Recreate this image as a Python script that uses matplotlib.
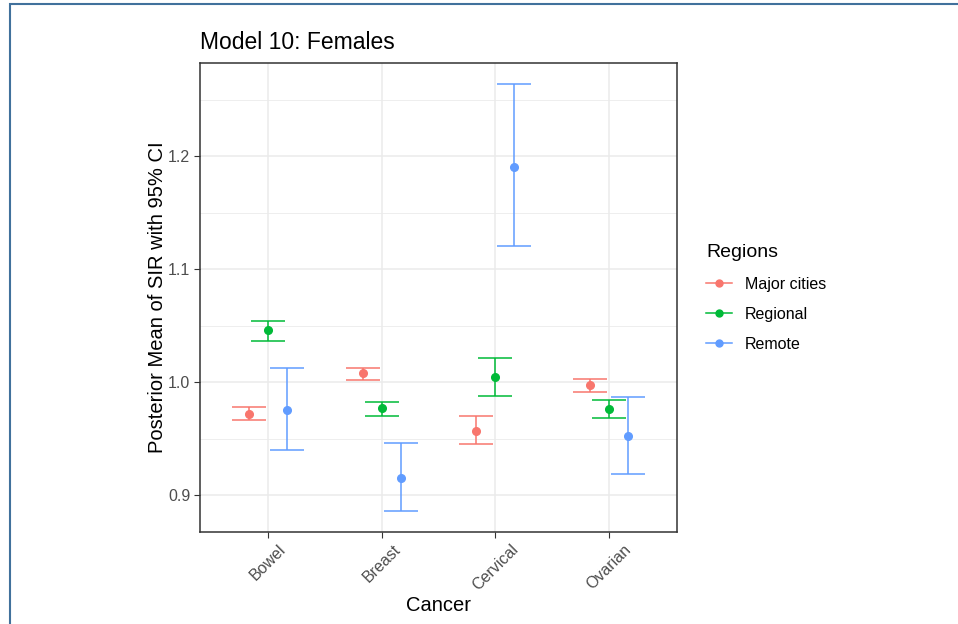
import numpy as np
import matplotlib.pyplot as plt
from matplotlib.lines import Line2D
from matplotlib.patches import Rectangle

plt.rcParams['font.family'] = ['Liberation Sans', 'DejaVu Sans']

# data
cancers = ['Bowel', 'Breast', 'Cervical', 'Ovarian']
regions = ['Major cities', 'Regional', 'Remote']
colors = ['#F8766D', '#00BA38', '#619CFF']

mean = {
    'Major cities': [0.972, 1.0077, 0.957, 0.9973],
    'Regional':     [1.0457, 0.9767, 1.0042, 0.9764],
    'Remote':       [0.975, 0.9153, 1.190, 0.9522],
}
lower = {
    'Major cities': [0.966, 1.0018, 0.9454, 0.9914],
    'Regional':     [1.0366, 0.9696, 0.9879, 0.9684],
    'Remote':       [0.9395, 0.8856, 1.1206, 0.9189],
}
upper = {
    'Major cities': [0.978, 1.012, 0.9696, 1.0029],
    'Regional':     [1.054, 0.9823, 1.0215, 0.9843],
    'Remote':       [1.0121, 0.9463, 1.2637, 0.9867],
}

fig = plt.figure(figsize=(9.58, 6.24), dpi=100)
W, H = 958, 624
ax = fig.add_axes([200 / W, (H - 532) / H, 477 / W, 469 / H])

x = np.arange(1, len(cancers) + 1)
dodge = 0.5 / 3
for i, r in enumerate(regions):
    xs = x + (i - 1) * dodge
    m = np.array(mean[r])
    lo = m - np.array(lower[r])
    hi = np.array(upper[r]) - m
    ax.errorbar(xs, m, yerr=[lo, hi], fmt='none', ecolor=colors[i],
                elinewidth=1.1, capsize=12, capthick=1.1, zorder=3)
    ax.plot(xs, m, 'o', color=colors[i], ms=5.5, zorder=4)

ax.set_xlim(0.4, 4.6)
ax.set_ylim(0.8673, 1.2823)
ax.set_xticks(x)
ax.set_xticklabels(cancers, rotation=45, ha='center')
ax.set_yticks([0.9, 1.0, 1.1, 1.2])
ax.set_yticklabels(['0.9', '1.0', '1.1', '1.2'])
ax.set_yticks([0.95, 1.05, 1.15, 1.25], minor=True)
ax.grid(True, which='major', color='#EBEBEB', lw=1.1, zorder=0)
ax.grid(True, which='minor', axis='y', color='#EBEBEB', lw=0.6, zorder=0)
ax.set_axisbelow(True)
ax.tick_params(axis='both', which='major', colors='#333333', labelcolor='#4D4D4D',
               labelsize=11.5, length=4, pad=3)
ax.tick_params(axis='y', which='minor', length=0)
for s in ax.spines.values():
    s.set_color('#333333')
    s.set_linewidth(1.1)

ax.set_xlabel('Cancer', fontsize=14.5, labelpad=2)
ax.set_ylabel('Posterior Mean of SIR with 95% CI', fontsize=14.5, labelpad=1)
ax.set_title('Model 10: Females', fontsize=16.5, loc='left', pad=10)

handles = [Line2D([0], [0], color=c, marker='o', ms=5, lw=1.1) for c in colors]
leg = fig.legend(handles, regions, title='Regions', loc='upper left',
                 bbox_to_anchor=(692 / W, (H - 230) / H), frameon=False,
                 fontsize=11.5, title_fontsize=14, handlelength=1.6,
                 labelspacing=0.95, alignment='left')

# screenshot frame
fig.add_artist(Rectangle((9.5 / W, -0.1), 2, 1.1 - 4 / H, transform=fig.transFigure,
                         fill=False, edgecolor='#41719C', lw=1.5))

fig.savefig('out.png', dpi=100)
